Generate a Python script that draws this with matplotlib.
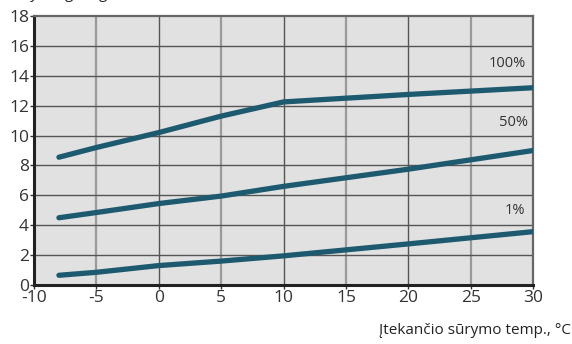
import matplotlib
matplotlib.use("Agg")
import matplotlib.pyplot as plt

# data
temps = [-8, -5, 0, 5, 10, 20, 30]
load_100 = [8.55, 9.2, 10.2, 11.3, 12.25, 12.75, 13.2]
load_50 = [4.5, 4.85, 5.45, 5.95, 6.6, 7.75, 9.0]
load_1 = [0.65, 0.85, 1.3, 1.6, 1.95, 2.75, 3.57]
series_labels = ["100%", "50%", "1%"]
label_pos = [(29.4, 14.85), (29.6, 10.85), (29.4, 5.0)]
xticks = list(range(-10, 31, 5))
yticks = list(range(0, 19, 2))

plt.rcParams['font.family'] = ['Open Sans', 'DejaVu Sans']
plt.rcParams['axes.unicode_minus'] = False

fig = plt.figure(figsize=(5.72, 3.44), dpi=100)
ax = fig.add_axes([0.0594, 0.1715, 0.8726, 0.782])
ax.set_facecolor('#e1e1e1')
ax.set_xlim(-10, 30)
ax.set_ylim(0, 18)

# grid: alternating vertical line shades, horizontal all dark
for x in xticks[1:-1]:
    if x % 10 == 0:
        ax.axvline(x, color='#555555', lw=1.0, zorder=1)
    else:
        ax.axvline(x, color='#9a9a9a', lw=1.6, zorder=1)
for y in yticks[1:-1]:
    ax.axhline(y, color='#555555', lw=1.0, zorder=1)

line_color = '#1d5a70'
for ys in (load_100, load_50, load_1):
    ax.plot(temps, ys, color=line_color, lw=3.8, solid_capstyle='round', zorder=3)

for lab, (lx, ly) in zip(series_labels, label_pos):
    ax.text(lx, ly, lab, ha='right', va='center', fontsize=10.5, color='#333333')

ax.set_xticks(xticks)
ax.set_yticks(yticks)
ax.tick_params(direction='out', length=3, width=1, colors='#333333',
               labelsize=12.5, pad=0.5)
for s in ('left', 'bottom'):
    ax.spines[s].set_color('#222222')
    ax.spines[s].set_linewidth(2.2)
for s in ('top', 'right'):
    ax.spines[s].set_color('#666666')
    ax.spines[s].set_linewidth(1.6)

fig.text(0.998, 0.04, "Įtekančio sūrymo temp., °C", ha='right', va='center',
         fontsize=11, color='#222222')
# y-axis caption sits above the plot and is cut off by the image edge
fig.text(0.0, 1.006, "Šaldymo galingumas, kW", ha='left', va='baseline',
         fontsize=11, color='#222222')

fig.savefig("out.png", dpi=100)
